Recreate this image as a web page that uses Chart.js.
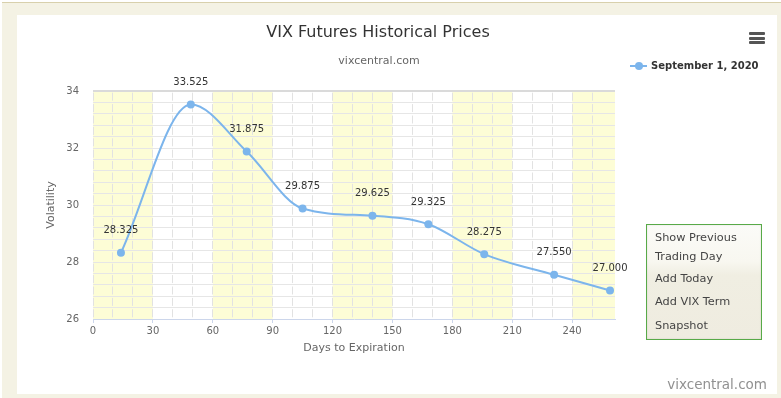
<!DOCTYPE html>
<html>
<head>
<meta charset="utf-8">
<script src="https://cdn.jsdelivr.net/npm/chart.js"></script>
<style>
  html, body { margin: 0; padding: 0; background: #ffffff; width: 781px; height: 398px; overflow: hidden; font-family: "DejaVu Sans", sans-serif; }
  .outer { position: absolute; left: 2px; top: 2px; width: 779px; height: 396px; background: #f4f2e4; border-top: 1px solid #d8d0ac; box-sizing: border-box; }
  .panel { position: absolute; left: 17px; top: 15px; width: 760px; height: 379px; background: #ffffff; }
  canvas#c { position: absolute; left: 0; top: 0; }
  .title { position: absolute; left: 0; width: 756px; top: 22px; line-height: 20px; text-align: center; font-size: 16px; color: #333333; }
  .subtitle { position: absolute; left: 0; width: 758px; top: 54px; line-height: 14px; text-align: center; font-size: 11px; color: #666666; }
  .legend { position: absolute; left: 630px; top: 59px; height: 14px; }
  .legend .ln { position: absolute; left: 0; top: 6px; width: 17px; height: 2px; background: #7cb5ec; }
  .legend .dot { position: absolute; left: 4.5px; top: 3px; width: 8px; height: 8px; border-radius: 50%; background: #7cb5ec; }
  .legend .txt { position: absolute; left: 21px; top: 0; line-height: 14px; font-size: 10px; font-weight: bold; color: #333333; white-space: nowrap; }
  .burger { position: absolute; left: 749px; top: 32px; width: 16px; }
  .burger div { height: 3px; background: #555555; margin-bottom: 1.6px; border-radius: 1px; }
  .menu { position: absolute; left: 646px; top: 224px; width: 116px; height: 116px; box-sizing: border-box; border: 1.5px solid #58aa48; background: linear-gradient(to bottom, #fbfbf8 0%, #f8f7f0 32%, #f0eee2 44%, #efece0 100%); box-shadow: inset 0 0 2px rgba(0,0,0,0.12); }
  .menu .it { position: absolute; left: 8px; font-size: 11.3px; color: #444444; line-height: 14px; white-space: nowrap; }
  .footer { position: absolute; right: 14px; top: 375px; line-height: 18px; font-size: 13.5px; color: #919191; white-space: nowrap; }
</style>
</head>
<body>
<div class="outer"></div>
<div class="panel"></div>
<canvas id="c" width="781" height="398" style="width:781px;height:398px;"></canvas>
<div class="title">VIX Futures Historical Prices</div>
<div class="subtitle">vixcentral.com</div>
<div class="legend"><div class="ln"></div><div class="dot"></div><div class="txt">September 1, 2020</div></div>
<div class="burger"><div></div><div></div><div></div></div>
<div class="menu">
  <div class="it" style="top:6px">Show Previous</div>
  <div class="it" style="top:24.5px">Trading Day</div>
  <div class="it" style="top:47px">Add Today</div>
  <div class="it" style="top:69.5px">Add VIX Term</div>
  <div class="it" style="top:93.5px">Snapshot</div>
</div>
<div class="footer">vixcentral.com</div>
<script>
// ---- data ----
const seriesName = "September 1, 2020";
const daysToExpiration = [14, 49, 77, 105, 140, 168, 196, 231, 259];
const futuresPrices = [28.325, 33.525, 31.875, 29.875, 29.625, 29.325, 28.275, 27.550, 27.000];
const xAxisMin = 0, xAxisMax = 261.5, xMinorStep = 10, xLabelStep = 30;
const yAxisMin = 26, yAxisMax = 34, yMinorStep = 0.4, yLabelStep = 2;
const shadedBands = [[0, 30], [60, 90], [120, 150], [180, 210], [240, 270]];

Chart.defaults.font.family = "'DejaVu Sans', sans-serif";
Chart.defaults.color = '#666666';

const bandsPlugin = {
  id: 'bands',
  beforeDraw(chart) {
    const {ctx, chartArea, scales} = chart;
    ctx.save();
    ctx.fillStyle = '#fdfdd6';
    shadedBands.forEach(([a, b]) => {
      const x1 = Math.max(scales.x.getPixelForValue(a), chartArea.left);
      const x2 = Math.min(scales.x.getPixelForValue(b), chartArea.right);
      if (x2 > x1) ctx.fillRect(x1, chartArea.top, x2 - x1, chartArea.bottom - chartArea.top);
    });
    ctx.restore();
  }
};

const labelsPlugin = {
  id: 'valueLabels',
  afterDatasetsDraw(chart) {
    const {ctx} = chart;
    const meta = chart.getDatasetMeta(0);
    ctx.save();
    ctx.font = "10px 'DejaVu Sans', sans-serif";
    ctx.fillStyle = '#333333';
    ctx.textAlign = 'center';
    ctx.textBaseline = 'middle';
    meta.data.forEach((pt, i) => {
      ctx.fillText(futuresPrices[i].toFixed(3), pt.x, pt.y - 22);
    });
    ctx.restore();
  }
};

const isMult = (v, s) => Math.abs(v / s - Math.round(v / s)) < 1e-6;

new Chart(document.getElementById('c'), {
  type: 'line',
  data: {
    datasets: [{
      label: seriesName,
      data: daysToExpiration.map((d, i) => ({x: d, y: futuresPrices[i]})),
      borderColor: '#7cb5ec',
      backgroundColor: '#7cb5ec',
      borderWidth: 2,
      pointRadius: 4,
      pointBorderWidth: 0,
      pointBackgroundColor: '#7cb5ec',
      cubicInterpolationMode: 'monotone',
      fill: false
    }]
  },
  options: {
    responsive: false,
    animation: false,
    devicePixelRatio: 1,
    layout: { padding: { left: 40, right: 166, top: 91, bottom: 39 } },
    plugins: { legend: { display: false }, title: { display: false }, tooltip: { enabled: false } },
    scales: {
      x: {
        type: 'linear',
        min: xAxisMin, max: xAxisMax,
        afterFit: (s) => { s.height = 40; },
        ticks: {
          stepSize: xMinorStep, autoSkip: false, maxRotation: 0, padding: 2,
          font: { size: 10 }, color: '#666666',
          callback: (v) => (isMult(v, xLabelStep) ? String(v) : '')
        },
        grid: {
          color: (c) => (c.tick && isMult(c.tick.value, xMinorStep) ? '#e2e2e2' : 'transparent'),
          lineWidth: 1,
          drawTicks: true, tickLength: 4,
          tickColor: (c) => (c.tick && isMult(c.tick.value, xLabelStep) ? '#ccd6eb' : 'transparent')
        },
        border: { display: true, color: '#ccd6eb', width: 1, dash: [8, 3.4], dashOffset: 9.7 },
        title: { display: true, text: 'Days to Expiration', font: { size: 11 }, color: '#666666', padding: { top: 0, bottom: 4 } }
      },
      y: {
        min: yAxisMin, max: yAxisMax,
        afterFit: (s) => { s.width = 53; },
        ticks: {
          stepSize: yMinorStep, autoSkip: false, padding: 14,
          font: { size: 10 }, color: '#666666',
          callback: (v) => (isMult(v, yLabelStep) ? String(Math.round(v)) : '')
        },
        grid: {
          drawTicks: false,
          color: (c) => {
            if (!c.tick) return '#e6e6e6';
            if (Math.abs(c.tick.value - yAxisMin) < 1e-6) return 'transparent';
            if (Math.abs(c.tick.value - yAxisMax) < 1e-6) return '#dadada';
            return '#e6e6e6';
          },
          lineWidth: (c) => (c.tick && Math.abs(c.tick.value - yAxisMax) < 1e-6 ? 2 : 1)
        },
        border: { display: false },
        title: { display: true, text: 'Volatility', font: { size: 11 }, color: '#666666', padding: { top: 5, bottom: 0 } }
      }
    }
  },
  plugins: [bandsPlugin, labelsPlugin]
});
</script>
</body>
</html>
